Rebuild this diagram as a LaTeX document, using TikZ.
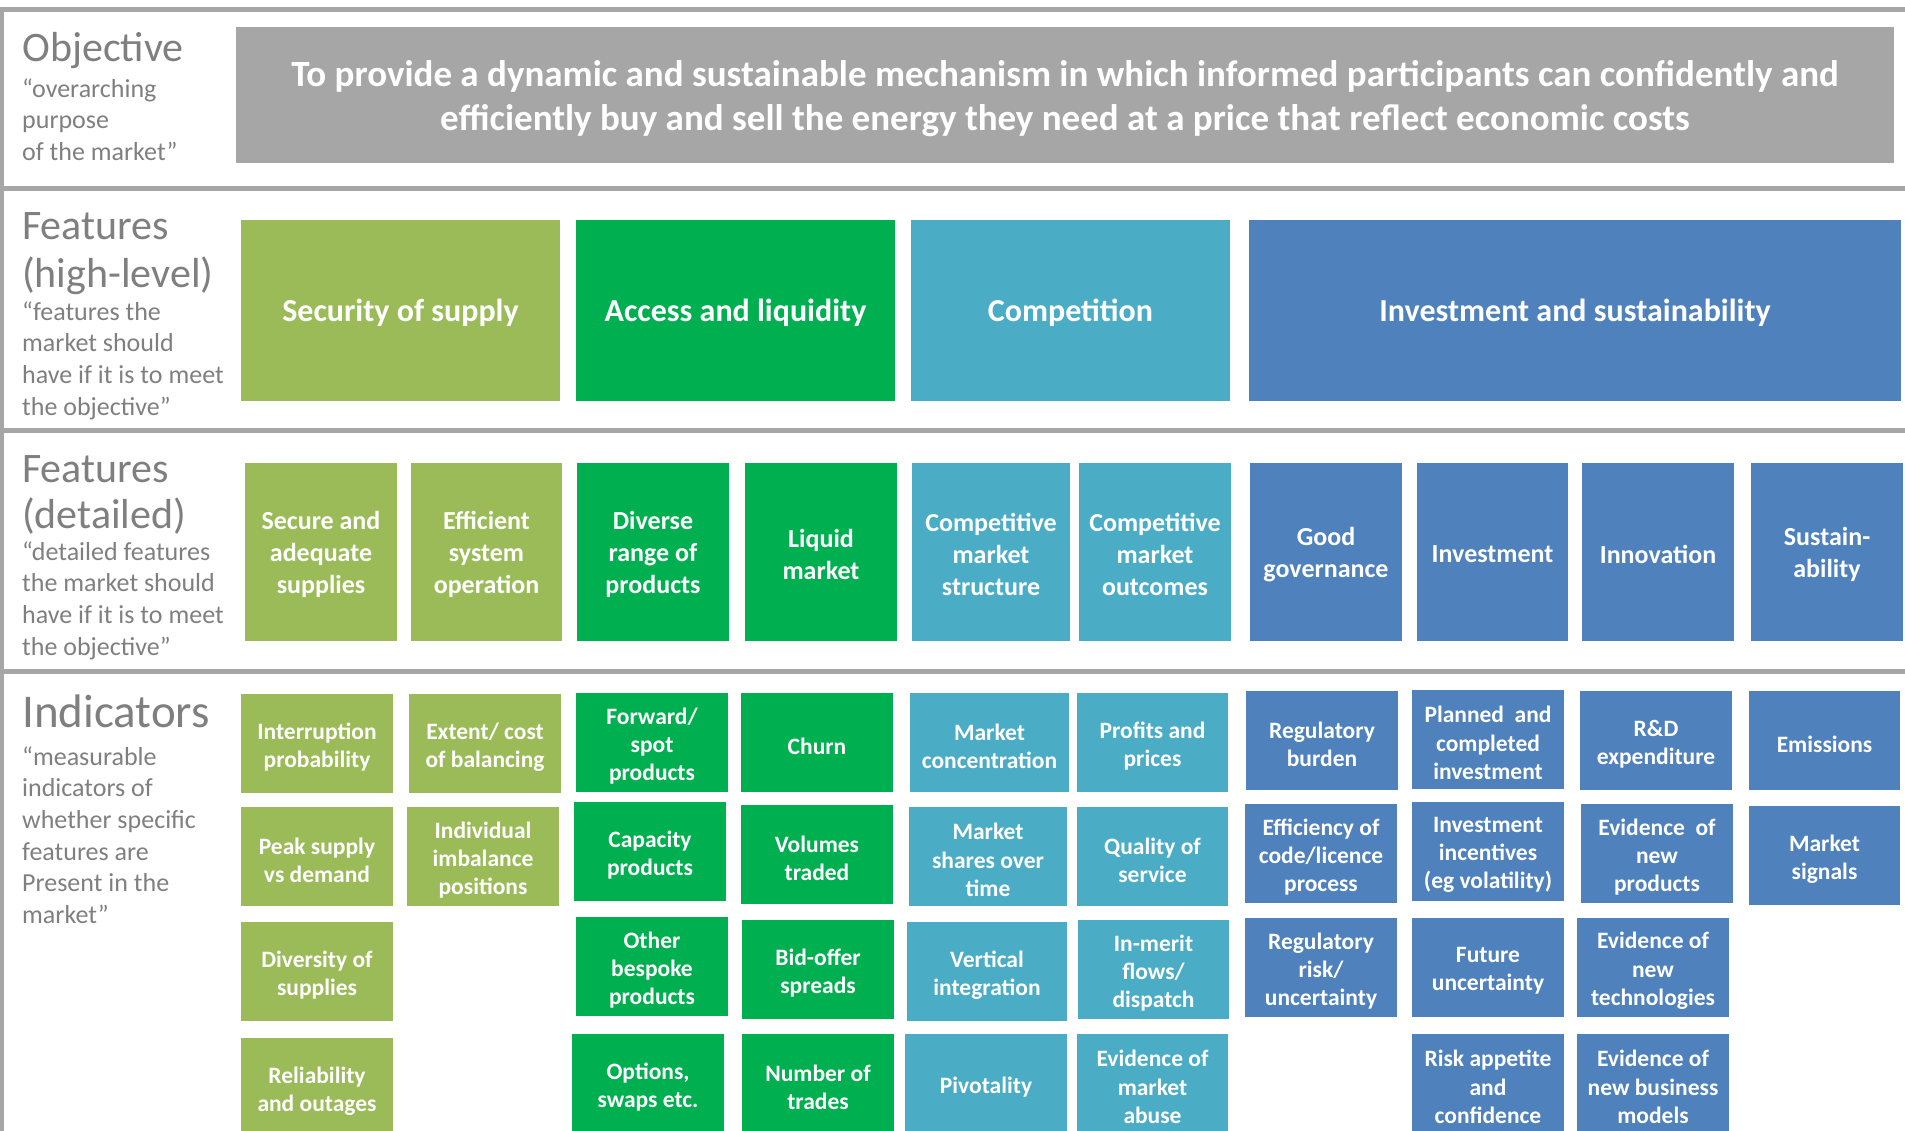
\documentclass[tikz,border=0pt]{standalone}
\usepackage{fontspec}
\setmainfont{Carlito}
\definecolor{lgreen}{HTML}{9BBB59}
\definecolor{dgreen}{HTML}{00B050}
\definecolor{compteal}{HTML}{4BACC6}
\definecolor{invblue}{HTML}{4F81BD}
\definecolor{objgray}{HTML}{A6A6A6}
\definecolor{labgray}{HTML}{7F7F7F}
\definecolor{rulegray}{HTML}{A6A6A6}
% strut that fixes the top of a label block above its first baseline
\newcommand\topstrut[1]{\rule{0pt}{#1pt}}
% \cellbox{name}{x}{y}{width}{height}{fill}{text style}{text}  (x,y = top-left corner)
\newcommand\cellbox[8]{%
  \node[cellbase, fill=#6, minimum width=#4pt, minimum height=#5pt] (#1) at (#2,#3) {};
  \node[#7] (#1t) at (#1.center) {#8};}
\begin{document}
\begin{tikzpicture}[x=1pt,y=-1pt,
  cellbase/.style={draw=none, inner sep=0pt, outer sep=0pt, anchor=north west},
  celltext/.style={text=white, align=center, inner sep=0pt},
  objt/.style={celltext, yshift=-4pt, font=\bfseries\fontsize{37}{44}\selectfont},
  hl/.style={celltext, yshift=-2pt, font=\bfseries\fontsize{32}{39}\selectfont},
  det/.style={celltext, yshift=-2.5pt, font=\bfseries\fontsize{26}{31.7}\selectfont},
  ind/.style={celltext, yshift=-3.5pt, font=\bfseries\fontsize{23.5}{28.3}\selectfont},
  head/.style={anchor=north west, inner sep=0pt, text=labgray, align=left},
  desc/.style={anchor=north west, inner sep=0pt, text=labgray, align=left, font=\fontsize{26}{31.6}\selectfont},
  sep/.style={draw=rulegray, line width=5pt}]
\useasboundingbox (0,0) rectangle (1905,1131);
\clip (0,0) rectangle (1905,1131);

% separators between the four tiers
\coordinate (l0) at (0,10);    \coordinate (r0) at (1905,10);
\coordinate (l1) at (0,189);   \coordinate (r1) at (1905,189);
\coordinate (l2) at (0,430.5); \coordinate (r2) at (1905,430.5);
\coordinate (l3) at (0,671);   \coordinate (r3) at (1905,671);
\coordinate (vt) at (2,7.5);   \coordinate (vb) at (2,1131);
\draw[sep] (l0) -- (r0);
\draw[sep] (l1) -- (r1);
\draw[sep] (l2) -- (r2);
\draw[sep] (l3) -- (r3);
\draw[draw=rulegray, line width=4pt] (vt) -- (vb);

% tier labels (node top = first baseline minus the strut height)
\node[head, font=\fontsize{42}{44}\selectfont] (tobj) at (22,27) {\topstrut{34}Objective};
\node[desc] (dobj) at (22,75) {\topstrut{22}“overarching\\purpose\\of the market”};
\node[head, font=\fontsize{42}{48.5}\selectfont] (thl) at (22,205) {\topstrut{34}Features\\(high-level)};
\node[desc] (dhl) at (22,298) {\topstrut{22}“features the\\market should\\have if it is to meet\\the objective”};
\node[head, font=\fontsize{42}{46.5}\selectfont] (tdet) at (22,448) {\topstrut{34}Features\\(detailed)};
\node[desc] (ddet) at (22,538) {\topstrut{22}“detailed features\\the market should\\have if it is to meet\\the objective”};
\node[head, font=\fontsize{47}{50}\selectfont] (tind) at (22,689) {\topstrut{38}Indicators};
\node[desc] (dind) at (22,743) {\topstrut{22}“measurable\\indicators of\\whether specific\\features are\\Present in the\\market”};

% objective
\cellbox{obj}{236}{27}{1658}{136}{objgray}{objt}{To provide a dynamic and sustainable mechanism in which informed participants can confidently and\\efficiently buy and sell the energy they need at a price that reflect economic costs}

% high-level features
\cellbox{hsec}{241}{220}{319}{181}{lgreen}{hl}{Security of supply}
\cellbox{hacc}{576}{220}{319}{181}{dgreen}{hl}{Access and liquidity}
\cellbox{hcomp}{911}{220}{319}{181}{compteal}{hl}{Competition}
\cellbox{hinv}{1249}{220}{652}{181}{invblue}{hl}{Investment and sustainability}

% detailed features
\cellbox{dsec}{245}{463}{152}{178}{lgreen}{det}{Secure and\\adequate\\supplies}
\cellbox{deff}{411}{463}{151}{178}{lgreen}{det}{Efficient\\system\\operation}
\cellbox{ddiv}{577}{463}{152}{178}{dgreen}{det}{Diverse\\range of\\products}
\cellbox{dliq}{745}{463}{152}{178}{dgreen}{det}{Liquid\\market}
\cellbox{dcs}{912}{463}{158}{178}{compteal}{det}{Competitive\\market\\structure}
\cellbox{dco}{1079}{463}{152}{178}{compteal}{det}{Competitive\\market\\outcomes}
\cellbox{dgov}{1250}{463}{152}{178}{invblue}{det}{Good\\governance}
\cellbox{dinv}{1417}{463}{151}{178}{invblue}{det}{Investment}
\cellbox{dinn}{1582}{463}{152}{178}{invblue}{det}{Innovation}
\cellbox{dsus}{1751}{463}{152}{178}{invblue}{det}{Sustain-\\ability}

% indicators: security of supply
\cellbox{i11}{241}{694}{152}{99}{lgreen}{ind}{Interruption\\probability}
\cellbox{i12}{241}{807}{152}{99}{lgreen}{ind}{Peak supply\\vs demand}
\cellbox{i13}{241}{922}{152}{99}{lgreen}{ind}{Diversity of\\supplies}
\cellbox{i14}{241}{1038}{152}{99}{lgreen}{ind}{Reliability\\and outages}
\cellbox{i21}{409}{694}{152}{99}{lgreen}{ind}{Extent/ cost\\of balancing}
\cellbox{i22}{407}{807}{152}{99}{lgreen}{ind}{Individual\\imbalance\\positions}

% indicators: access and liquidity
\cellbox{i31}{576}{693}{152}{99}{dgreen}{ind}{Forward/\\spot\\products}
\cellbox{i32}{574}{802}{152}{99}{dgreen}{ind}{Capacity\\products}
\cellbox{i33}{576}{917}{152}{99}{dgreen}{ind}{Other\\bespoke\\products}
\cellbox{i34}{572}{1034}{152}{99}{dgreen}{ind}{Options,\\swaps etc.}
\cellbox{i41}{741}{693}{152}{99}{dgreen}{ind}{Churn}
\cellbox{i42}{741}{805}{152}{99}{dgreen}{ind}{Volumes\\traded}
\cellbox{i43}{742}{920}{152}{99}{dgreen}{ind}{Bid-offer\\spreads}
\cellbox{i44}{742}{1034}{152}{99}{dgreen}{ind}{Number of\\trades}

% indicators: competition
\cellbox{i51}{910}{693}{159}{99}{compteal}{ind}{Market\\concentration}
\cellbox{i52}{909}{807}{158}{99}{compteal}{ind}{Market\\shares over\\time}
\cellbox{i53}{907}{922}{160}{99}{compteal}{ind}{Vertical\\integration}
\cellbox{i54}{905}{1034}{162}{99}{compteal}{ind}{Pivotality}
\cellbox{i61}{1077}{693}{151}{99}{compteal}{ind}{Profits and\\prices}
\cellbox{i62}{1077}{807}{151}{99}{compteal}{ind}{Quality of\\service}
\cellbox{i63}{1078}{920}{151}{99}{compteal}{ind}{In-merit\\flows/\\dispatch}
\cellbox{i64}{1077}{1034}{151}{99}{compteal}{ind}{Evidence of\\market\\abuse}

% indicators: investment and sustainability
\cellbox{i71}{1246}{691}{152}{99}{invblue}{ind}{Regulatory\\burden}
\cellbox{i72}{1245}{804}{152}{99}{invblue}{ind}{Efficiency of\\code/licence\\process}
\cellbox{i73}{1245}{918}{152}{99}{invblue}{ind}{Regulatory\\risk/\\uncertainty}
\cellbox{i81}{1412}{690}{152}{99}{invblue}{ind}{Planned\ \ and\\completed\\investment}
\cellbox{i82}{1412}{802}{152}{99}{invblue}{ind}{Investment\\incentives\\(eg volatility)}
\cellbox{i83}{1412}{918}{152}{99}{invblue}{ind}{Future\\uncertainty}
\cellbox{i84}{1412}{1034}{152}{99}{invblue}{ind}{Risk appetite\\and\\confidence}
\cellbox{i91}{1580}{691}{152}{99}{invblue}{ind}{R\&D\\expenditure}
\cellbox{i92}{1581}{804}{152}{99}{invblue}{ind}{Evidence\ \ of\\new\\products}
\cellbox{i93}{1577}{918}{152}{99}{invblue}{ind}{Evidence of\\new\\technologies}
\cellbox{i94}{1577}{1034}{152}{99}{invblue}{ind}{Evidence of\\new business\\models}
\cellbox{i101}{1749}{691}{151}{99}{invblue}{ind}{Emissions}
\cellbox{i102}{1749}{806}{151}{99}{invblue}{ind}{Market\\signals}
\end{tikzpicture}
\end{document}
